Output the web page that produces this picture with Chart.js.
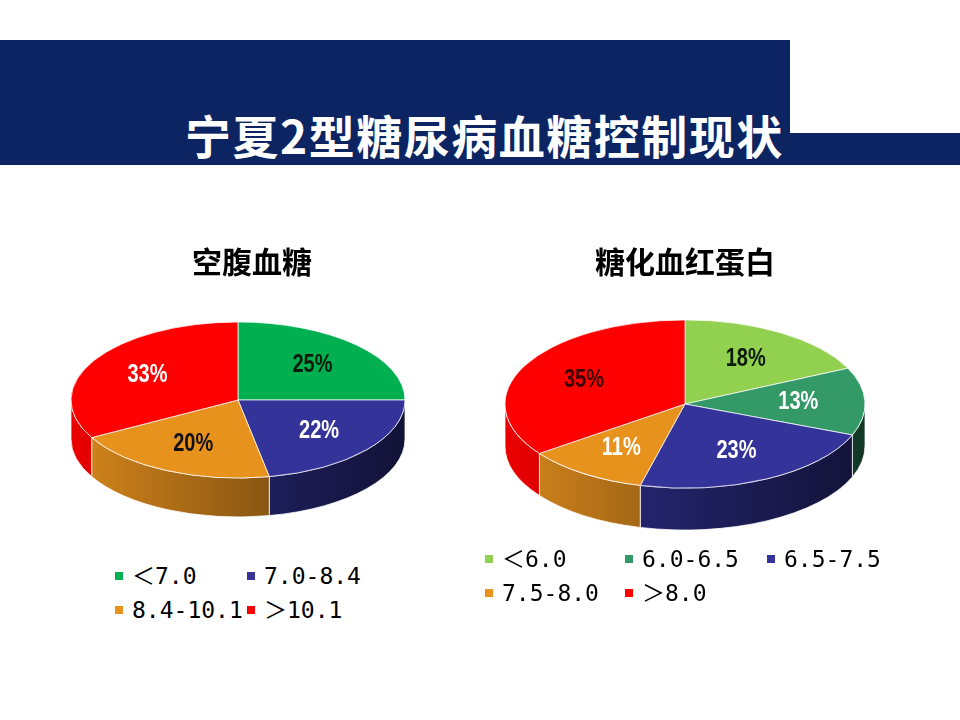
<!DOCTYPE html>
<html><head><meta charset="utf-8">
<script src="https://cdn.jsdelivr.net/npm/chart.js@4.4.1/dist/chart.umd.min.js"></script>
<style>
body{margin:0;width:960px;height:720px;background:#fff;position:relative;overflow:hidden;font-family:"Noto Sans CJK SC",sans-serif}
.band{position:absolute;background:#0c2461}
#title{position:absolute;left:185px;top:104px;color:#fff;font-weight:bold;font-size:46px;font-family:"Noto Sans CJK SC",sans-serif;letter-spacing:1.5px;white-space:nowrap;line-height:60px}
canvas{position:absolute}
.legend{position:absolute;display:grid;grid-auto-rows:34px;font-family:"DejaVu Sans Mono","Noto Sans CJK SC",monospace;font-size:23px;color:#000}
.item{display:flex;align-items:center;white-space:nowrap;line-height:34px}
.item i{display:inline-block;width:8px;height:8px;margin-right:9px;flex:none}
.item span{line-height:0}
</style></head>
<body>
<div class="band" style="left:0;top:40px;width:790px;height:125px"></div>
<div class="band" style="left:790px;top:133px;width:170px;height:32px"></div>
<div id="title">宁夏2型糖尿病血糖控制现状</div>
<canvas id="c1" width="420" height="320" style="left:42px;top:230px"></canvas>
<canvas id="c2" width="420" height="320" style="left:475px;top:230px"></canvas>
<div class="legend" id="lg1" style="left:115px;top:559px;grid-template-columns:132px 132px"></div>
<div class="legend" id="lg2" style="left:485px;top:542px;grid-template-columns:140px 142px 142px"></div>
<script>
// ---- data ----
const fpgTitle = '空腹血糖';
const fpgCategories = ['＜7.0', '7.0-8.4', '8.4-10.1', '＞10.1'];
const fpgValues = [25, 22, 20, 33];
const fpgColors = ['#00b050', '#333399', '#e8921e', '#ff0000'];
const fpgLabelColors = ['#0b1a0b', '#ffffff', '#111111', '#ffffff'];

const hbaTitle = '糖化血红蛋白';
const hbaCategories = ['＜6.0', '6.0-6.5', '6.5-7.5', '7.5-8.0', '＞8.0'];
const hbaValues = [18, 13, 23, 11, 35];
const hbaColors = ['#92d050', '#339966', '#333399', '#e8921e', '#ff0000'];
const hbaLabelColors = ['#0b1a0b', '#ffffff', '#ffffff', '#ffffff', '#3a0000'];

function shade(hex, f) {
  const n = parseInt(hex.slice(1), 16);
  const r = (n >> 16) & 255, g = (n >> 8) & 255, b = n & 255;
  return 'rgb(' + Math.round(r * f) + ',' + Math.round(g * f) + ',' + Math.round(b * f) + ')';
}

const pie3d = {
  id: 'pie3d',
  beforeDatasetsDraw(chart, args, o) {
    const ctx = chart.ctx, meta = chart.getDatasetMeta(0), ds = chart.data.datasets[0];
    const a0 = meta.data[0];
    const r = a0.outerRadius, tx = o.cx, ty = o.cy, ry = r * o.tilt, d = o.depth;
    meta.data.forEach((arc, i) => {
      const s = Math.max(arc.startAngle, 0), e = Math.min(arc.endAngle, Math.PI);
      if (e <= s) return;
      const g = ctx.createLinearGradient(tx - r, 0, tx + r, 0);
      const c = ds.backgroundColor[i];
      g.addColorStop(0, shade(c, 0.92));
      g.addColorStop(1, shade(c, 0.36));
      ctx.beginPath();
      ctx.ellipse(tx, ty, r, ry, 0, s, e);
      ctx.lineTo(tx + r * Math.cos(e), ty + ry * Math.sin(e) + d);
      ctx.ellipse(tx, ty + d, r, ry, 0, e, s, true);
      ctx.closePath();
      ctx.fillStyle = g;
      ctx.fill();
      ctx.lineWidth = 1;
      ctx.strokeStyle = 'rgba(255,255,255,0.75)';
      ctx.stroke();
    });
    ctx.save();
    ctx.translate(tx, ty);
    ctx.scale(1, o.tilt);
    ctx.translate(-a0.x, -a0.y);
  },
  afterDatasetsDraw(chart, args, o) {
    const ctx = chart.ctx;
    ctx.restore();
    const meta = chart.getDatasetMeta(0), ds = chart.data.datasets[0];
    const r = meta.data[0].outerRadius, ry = r * o.tilt;
    meta.data.forEach((arc, i) => {
      const m = (arc.startAngle + arc.endAngle) / 2;
      const x = o.cx + o.labelPos * r * Math.cos(m);
      const y = o.cy + o.labelPos * ry * Math.sin(m);
      ctx.save();
      ctx.translate(x, y);
      ctx.scale(0.8, 1);
      ctx.font = 'bold 25px "Liberation Sans", Arial, sans-serif';
      ctx.textAlign = 'center';
      ctx.textBaseline = 'middle';
      ctx.fillStyle = ds.labelColors[i];
      ctx.fillText(ds.data[i] + '%', 0, 0);
      ctx.restore();
    });
  }
};

function makePie(id, title, cats, vals, colors, labelColors, geo) {
  return new Chart(document.getElementById(id), {
    type: 'pie',
    data: {
      labels: cats,
      datasets: [{
        data: vals,
        backgroundColor: colors,
        labelColors: labelColors,
        borderColor: '#ffffff',
        borderWidth: 1,
        radius: geo.r,
        clip: false
      }]
    },
    options: {
      responsive: false,
      animation: false,
      events: [],
      layout: { padding: 0 },
      plugins: {
        legend: { display: false },
        tooltip: { enabled: false },
        title: {
          display: true,
          text: title,
          color: '#000',
          font: { family: '"Noto Sans CJK SC", sans-serif', size: 30, weight: 'bold' },
          padding: { top: 14, bottom: 10 }
        },
        pie3d: { cx: geo.cx, cy: geo.cy, tilt: geo.tilt, depth: geo.depth, labelPos: 0.63 }
      }
    },
    plugins: [pie3d]
  });
}

makePie('c1', fpgTitle, fpgCategories, fpgValues, fpgColors, fpgLabelColors,
  { r: 167, cx: 196, cy: 170, tilt: 0.467, depth: 39 });
makePie('c2', hbaTitle, hbaCategories, hbaValues, hbaColors, hbaLabelColors,
  { r: 180, cx: 210, cy: 174, tilt: 0.467, depth: 42 });

function makeLegend(id, cats, colors) {
  const el = document.getElementById(id);
  cats.forEach((c, i) => {
    const it = document.createElement('div');
    it.className = 'item';
    const sw = document.createElement('i');
    sw.style.background = colors[i];
    it.appendChild(sw);
    const t = document.createElement('span');
    t.textContent = c;
    it.appendChild(t);
    el.appendChild(it);
  });
}
makeLegend('lg1', fpgCategories, fpgColors);
makeLegend('lg2', hbaCategories, hbaColors);
</script>
</body></html>
